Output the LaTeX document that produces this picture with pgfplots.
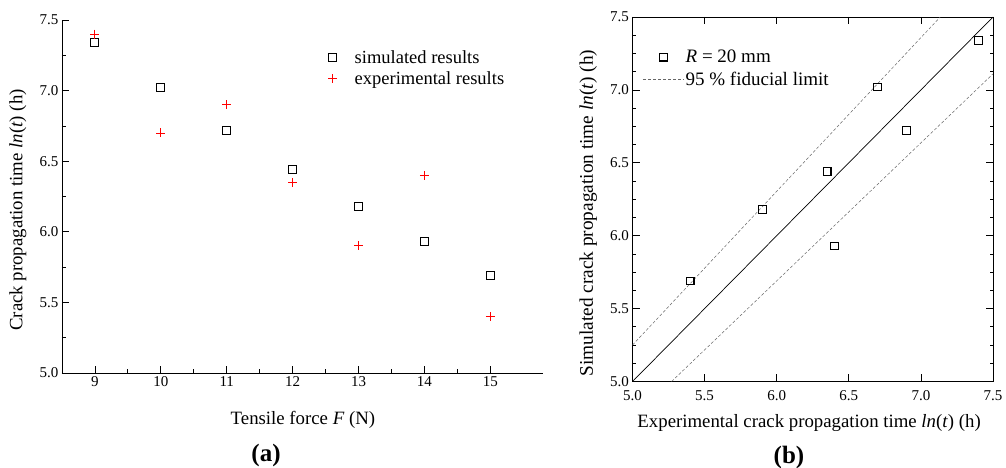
\documentclass[border=0pt]{standalone}
\usepackage{pgfplots}
\pgfplotsset{compat=1.18}
\usepackage{fontspec}
\setmainfont{Liberation Serif}

% ln(t) vs tensile force
\pgfplotstableread{
F   sim   exp
9   7.34  7.40
10  7.02  6.70
11  6.72  6.90
12  6.44  6.35
13  6.18  5.90
14  5.93  6.40
15  5.69  5.40
}\crackdata

\pgfplotsset{
  common/.style={
    scale only axis,
    tick align=inside,
    major tick length=7bp,
    minor tick length=3.5bp,
    every tick/.style={black, line width=0.8pt},
    axis line style={line width=0.9pt},
    tick label style={font=\fontsize{15bp}{18bp}\selectfont},
    label style={font=\fontsize{18.8bp}{22bp}\selectfont},
    /pgf/number format/assume math mode=true,
    legend style={draw=none, fill=none, inner sep=0pt,
      font=\fontsize{18.5bp}{22bp}\selectfont, row sep=3bp,
      cells={anchor=west}},
    legend image code/.code={\path (0bp,0bp) (40bp,0bp);
      \draw[mark repeat=2,mark phase=2,##1]
      plot coordinates {(0bp,0bp) (20bp,0bp) (40bp,0bp)};},
  },
  onedec/.style={/pgf/number format/fixed, /pgf/number format/fixed zerofill,
    /pgf/number format/precision=1},
}

\begin{document}
\begin{tikzpicture}
\useasboundingbox (0,0) rectangle (1006bp,468bp);

% (a)
\begin{axis}[common,
  at={(62bp,95bp)}, anchor=south west,
  width=481bp, height=353bp,
  axis x line*=bottom, axis y line*=left,
  xtick pos=bottom, ytick pos=left,
  xmin=8.5, xmax=15.8, ymin=5, ymax=7.5,
  xtick={9,...,15}, ytick={5,5.5,...,7.5},
  minor x tick num=1, minor y tick num=1,
  yticklabel style={onedec},
  xlabel={Tensile force \textit{F} (N)},
  ylabel={Crack propagation time \textit{ln}(\textit{t}) (h)},
  x label style={at={(axis description cs:0.501,-0.133)}, anchor=center},
  y label style={at={(axis description cs:-0.0915,0.462)}, anchor=center},
  legend style={at={(axis description cs:0.52,0.92)}, anchor=north west},
]
\addplot[only marks, mark=square, mark size=4bp, mark options={line width=1.1pt}, black]
  table[x=F, y=sim] {\crackdata};
\addlegendentry{simulated results}
\addplot[only marks, mark=+, mark size=4.5bp, mark options={line width=0.9pt}, red]
  table[x=F, y=exp] {\crackdata};
\addlegendentry{experimental results}
\end{axis}

% (b)
\begin{axis}[common,
  at={(632.5bp,86.5bp)}, anchor=south west,
  width=360.5bp, height=364.5bp,
  xmin=5, xmax=7.5, ymin=5, ymax=7.5,
  xtick={5,5.5,...,7.5}, ytick={5,5.5,...,7.5},
  minor y tick num=3,
  ticklabel style={onedec},
  xticklabel style={yshift=-6bp},
  xlabel={Experimental crack propagation time \textit{ln}(\textit{t}) (h)},
  ylabel={Simulated crack propagation time \textit{ln}(\textit{t}) (h)},
  x label style={at={(axis description cs:0.49,-0.114)}, anchor=center},
  y label style={font=\fontsize{19.3bp}{23bp}\selectfont,
    at={(axis description cs:-0.123,0.462)}, anchor=center},
  legend style={at={(axis description cs:0.029,0.915)}, anchor=north west,
    font=\fontsize{19bp}{22bp}\selectfont, row sep=4bp},
]
\addplot[only marks, mark=square, mark size=3.8bp, mark options={line width=1.1pt}, black]
  table[x=exp, y=sim] {\crackdata};
\addlegendentry{\textit{R} = 20 mm}
\addplot[densely dashed, gray!80!black, line width=0.5pt]
  coordinates {(5,5.25) (7.134,7.5)};
\addlegendentry{95 \% fiducial limit}
\addplot[densely dashed, gray!80!black, line width=0.5pt, forget plot]
  coordinates {(5.271,5) (7.5,7.11)};
\addplot[black, line width=0.7pt, forget plot]
  coordinates {(5,5) (7.5,7.5)};
\end{axis}

\node[font=\fontsize{25bp}{28bp}\selectfont\bfseries] at (266bp,13bp) {(a)};
\node[font=\fontsize{25bp}{28bp}\selectfont\bfseries] at (789bp,11bp) {(b)};
\end{tikzpicture}
\end{document}
